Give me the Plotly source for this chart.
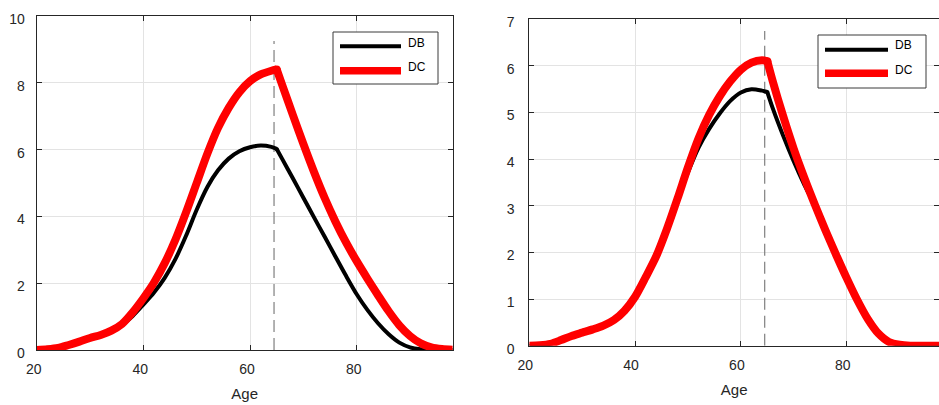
import plotly.graph_objects as go

# ---------------- data ----------------
ages = [20, 22, 24, 26, 28, 30, 32, 34, 36, 38, 40, 42, 44, 46, 48, 50, 52, 54, 56, 58,
        60, 62, 64, 65, 66, 68, 70, 72, 74, 76, 78, 80, 82, 84, 86, 88, 90, 92, 94, 96, 98]
kink_age = 65

left_db = [0.0, 0.02, 0.06, 0.15, 0.25, 0.36, 0.45, 0.57, 0.75, 1.02, 1.36, 1.72, 2.16, 2.72, 3.42, 4.2,
           4.88, 5.38, 5.73, 5.95, 6.07, 6.12, 6.08, 6.02, 5.73, 5.15, 4.56, 3.97, 3.39, 2.8, 2.22,
           1.67, 1.2, 0.8, 0.47, 0.22, 0.08, 0.02, 0.0, 0.0, 0.0]
left_dc = [0.0, 0.02, 0.06, 0.15, 0.25, 0.36, 0.45, 0.58, 0.78, 1.13, 1.55, 2.02, 2.6, 3.3, 4.12, 5.0,
           5.88, 6.65, 7.25, 7.72, 8.05, 8.25, 8.36, 8.4, 7.95, 7.05, 6.17, 5.33, 4.55, 3.85, 3.22,
           2.66, 2.14, 1.64, 1.16, 0.74, 0.42, 0.2, 0.08, 0.03, 0.01]

right_db = [0.0, 0.01, 0.04, 0.12, 0.21, 0.28, 0.35, 0.43, 0.55, 0.75, 1.05, 1.47, 1.92, 2.5, 3.12, 3.72,
            4.25, 4.65, 4.98, 5.25, 5.43, 5.5, 5.47, 5.44, 5.1, 4.5, 3.95, 3.45, 3.0, 2.47, 1.95,
            1.45, 0.98, 0.57, 0.26, 0.08, 0.02, 0.0, 0.0, 0.0, 0.0]
right_dc = [0.0, 0.01, 0.04, 0.12, 0.21, 0.28, 0.35, 0.43, 0.55, 0.75, 1.05, 1.47, 1.92, 2.5, 3.15, 3.83,
            4.45, 4.95, 5.35, 5.67, 5.92, 6.07, 6.12, 6.1, 5.68, 4.92, 4.22, 3.6, 3.02, 2.47, 1.95,
            1.45, 0.98, 0.57, 0.26, 0.08, 0.02, 0.0, 0.0, 0.0, 0.0]

retire_age = 64.5
left_dash_y = [0, 9.25]
right_dash_y = [0, 6.75]

x_ticks = [20, 40, 60, 80]
left_y_ticks = [0, 2, 4, 6, 8, 10]
right_y_ticks = [0, 1, 2, 3, 4, 5, 6, 7]
series_names = ["DB", "DC"]

# ---------------- style ----------------
W, H = 939, 405
TXT = "#262626"
GRID = "#e3e3e3"
FONT = "Liberation Sans, Arial, sans-serif"
RED = "#ff0000"


def px(x):
    return x / W


def py(y):
    return 1 - y / H


fig = go.Figure()
k = ages.index(kink_age)


def add_series(xa, ya, vals, name, color, width):
    # two smooth pieces meeting at the kink, plus a round join at the kink
    for sl in (slice(0, k + 1), slice(k, None)):
        fig.add_trace(go.Scatter(x=ages[sl], y=vals[sl], mode="lines", name=name,
                                 line=dict(color=color, width=width, shape="spline", smoothing=0.8),
                                 xaxis=xa, yaxis=ya, showlegend=False))
    fig.add_trace(go.Scatter(x=[ages[k]], y=[vals[k]], mode="markers", name=name,
                             marker=dict(color=color, size=width, line=dict(width=0)),
                             xaxis=xa, yaxis=ya, showlegend=False, hoverinfo="skip"))


panels = [
    ("x", "y", left_db, left_dc, left_dash_y),
    ("x2", "y2", right_db, right_dc, right_dash_y),
]
for xa, ya, db, dc, dash_y in panels:
    fig.add_trace(go.Scatter(x=[retire_age, retire_age], y=dash_y, mode="lines",
                             line=dict(color="#7f7f7f", width=1.2, dash="12px,6px"),
                             xaxis=xa, yaxis=ya, showlegend=False, hoverinfo="skip"))
    add_series(xa, ya, db, series_names[0], "black", 4)
    add_series(xa, ya, dc, series_names[1], RED, 8)

axis_common = dict(
    showline=True, linecolor=TXT, linewidth=1, mirror="ticks",
    ticks="inside", ticklen=5, tickcolor=TXT, tickwidth=1,
    showgrid=True, gridcolor=GRID, gridwidth=1, zeroline=False,
    tickfont=dict(family=FONT, size=14, color=TXT), automargin=False,
)

fig.update_layout(
    width=W, height=H,
    margin=dict(l=0, r=0, t=0, b=0, pad=0),
    paper_bgcolor="white", plot_bgcolor="white",
    showlegend=False,
    xaxis=dict(domain=[px(36.7), px(452.7)], range=[20, 98], tickvals=x_ticks,
               anchor="y", ticklabelstandoff=6, ticklabelshift=-3,
               title=dict(text="Age", font=dict(family=FONT, size=15, color=TXT), standoff=12),
               **axis_common),
    yaxis=dict(domain=[py(350), py(16)], range=[0, 10], tickvals=left_y_ticks,
               anchor="x", ticklabelstandoff=8, ticklabelshift=3, **axis_common),
    xaxis2=dict(domain=[px(529.3), 1.0], range=[20, 97.45], tickvals=x_ticks,
                anchor="y2", ticklabelstandoff=6, ticklabelshift=-4,
                title=dict(text="Age", font=dict(family=FONT, size=15, color=TXT), standoff=12),
                **axis_common),
    yaxis2=dict(domain=[py(345.7), py(19.3)], range=[0, 7], tickvals=right_y_ticks,
                anchor="x2", ticklabelstandoff=11, ticklabelshift=3, **axis_common),
)

# manual legends (box, sample lines, labels)
legends = [
    dict(box=(333, 32, 438, 84), lx=(340, 401), ly=(46.3, 70.7), tx=406, ty=(42.7, 66.7)),
    dict(box=(818, 35, 926, 88), lx=(825, 888), ly=(49.7, 73.3), tx=892.5, ty=(45.2, 70.0)),
]
shapes = []
annotations = []
for lg in legends:
    x0, y0, x1, y1 = lg["box"]
    shapes.append(dict(type="rect", xref="paper", yref="paper", x0=px(x0), x1=px(x1),
                       y0=py(y1), y1=py(y0), line=dict(color="#3a3a3a", width=1),
                       fillcolor="white", layer="above"))
    for i, (col, wd) in enumerate([("black", 4), (RED, 7.5)]):
        shapes.append(dict(type="line", xref="paper", yref="paper",
                           x0=px(lg["lx"][0]), x1=px(lg["lx"][1]),
                           y0=py(lg["ly"][i]), y1=py(lg["ly"][i]),
                           line=dict(color=col, width=wd), layer="above"))
        annotations.append(dict(xref="paper", yref="paper", x=px(lg["tx"]), y=py(lg["ty"][i]),
                                text=series_names[i], showarrow=False, xanchor="left",
                                yanchor="middle",
                                font=dict(family=FONT, size=12, color="black")))
fig.update_layout(shapes=shapes, annotations=annotations)

fig.write_html("out.html")
